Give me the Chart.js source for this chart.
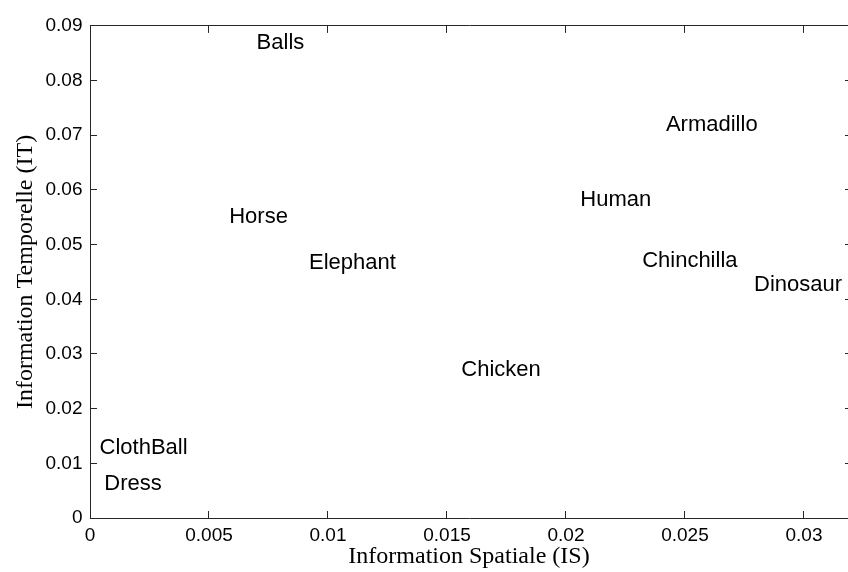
<!DOCTYPE html>
<html lang="fr">
<head>
  <meta charset="UTF-8">
  <title>Information Spatiale / Temporelle</title>
  <script src="https://cdn.jsdelivr.net/npm/chart.js"></script>
  <style>
    html, body { margin: 0; padding: 0; background: #fff; overflow: hidden; }
    canvas { display: block; }
  </style>
</head>
<body>
  <canvas id="isItChart" width="848" height="572"></canvas>
  <script>
    // Sequences and their spatial / temporal information
    const names = ['Balls', 'Horse', 'Elephant', 'Armadillo', 'Human', 'Chinchilla', 'Dinosaur', 'Chicken', 'ClothBall', 'Dress'];
    const isValues = [0.0070, 0.00585, 0.0092, 0.0242, 0.0206, 0.0232, 0.0279, 0.0156, 0.0004, 0.0006];
    const itValues = [0.0868, 0.0551, 0.0466, 0.0718, 0.0581, 0.0471, 0.0427, 0.0270, 0.0129, 0.0063];

    // Axis ticks (the box is cut at the right edge of the figure, ~0.03185)
    const xMax = 0.03185;
    const xTicks = [0, 0.005, 0.01, 0.015, 0.02, 0.025, 0.03];
    const xTickLabels = ['0', '0.005', '0.01', '0.015', '0.02', '0.025', '0.03'];
    const yTicks = [0, 0.01, 0.02, 0.03, 0.04, 0.05, 0.06, 0.07, 0.08, 0.09];
    const yTickLabels = ['0', '0.01', '0.02', '0.03', '0.04', '0.05', '0.06', '0.07', '0.08', '0.09'];

    const axisColor = '#262626';

    // draws each name at its point, left aligned, like matlab text()
    const pointNames = {
      id: 'pointNames',
      afterDatasetsDraw(chart) {
        const ctx = chart.ctx;
        const meta = chart.getDatasetMeta(0);
        ctx.save();
        ctx.font = '22px "Liberation Sans", Arial, sans-serif';
        ctx.fillStyle = '#000';
        ctx.textAlign = 'left';
        ctx.textBaseline = 'middle';
        meta.data.forEach((pt, i) => {
          ctx.fillText(names[i], pt.x, pt.y);
        });
        ctx.restore();
      }
    };

    const setTicks = (values) => (scale) => {
      scale.ticks = values.map(v => ({ value: v }));
    };

    const ctx = document.getElementById('isItChart').getContext('2d');
    Chart.defaults.font.family = '"Liberation Sans", Arial, sans-serif';
    Chart.defaults.color = '#000';

    new Chart(ctx, {
      type: 'scatter',
      data: {
        datasets: [{
          data: isValues.map((x, i) => ({ x: x, y: itValues[i] })),
          pointRadius: 0,
          pointHoverRadius: 0
        }]
      },
      options: {
        responsive: false,
        animation: false,
        devicePixelRatio: 1,
        layout: { padding: 0 },
        plugins: {
          legend: { display: false },
          tooltip: { enabled: false }
        },
        scales: {
          x: {
            type: 'linear',
            position: 'bottom',
            min: 0,
            max: xMax,
            afterBuildTicks: setTicks(xTicks),
            afterFit(scale) { scale.height = 54; },
            grid: { drawOnChartArea: false, drawTicks: true, tickLength: -7, color: axisColor },
            border: { display: true, color: axisColor, width: 1 },
            ticks: {
              autoSkip: false,
              maxRotation: 0,
              padding: 13,
              font: { size: 19 },
              callback: (v, i) => xTickLabels[i]
            },
            title: {
              display: true,
              text: 'Information Spatiale (IS)',
              font: { family: '"Liberation Serif", "Times New Roman", serif', size: 24 },
              padding: { top: 0, bottom: 1 }
            }
          },
          x2: {
            type: 'linear',
            position: 'top',
            display: true,
            min: 0,
            max: xMax,
            afterBuildTicks: setTicks(xTicks),
            afterFit(scale) { scale.height = 23; },
            grid: { drawOnChartArea: false, drawTicks: true, tickLength: -7, color: axisColor },
            border: { display: true, color: axisColor, width: 1 },
            ticks: { display: false }
          },
          y: {
            type: 'linear',
            position: 'left',
            min: 0,
            max: 0.09,
            afterBuildTicks: setTicks(yTicks),
            afterFit(scale) { scale.width = 90; },
            grid: { drawOnChartArea: false, drawTicks: true, tickLength: -7, color: axisColor },
            border: { display: true, color: axisColor, width: 1 },
            ticks: {
              autoSkip: false,
              padding: 14.5,
              font: { size: 19 },
              callback: (v, i) => yTickLabels[i]
            },
            title: {
              display: true,
              text: 'Information Temporelle (IT)',
              font: { family: '"Liberation Serif", "Times New Roman", serif', size: 24 },
              padding: { top: 11, bottom: 0 }
            }
          },
          y2: {
            // right side of the box falls just outside the figure: only the tick stubs show
            type: 'linear',
            position: 'right',
            display: true,
            min: 0,
            max: 0.09,
            afterBuildTicks: setTicks(yTicks),
            afterFit(scale) { scale.width = 0; },
            grid: { drawOnChartArea: false, drawTicks: true, tickLength: -3, color: axisColor },
            border: { display: false },
            ticks: { display: false }
          }
        }
      },
      plugins: [pointNames]
    });
  </script>
</body>
</html>
